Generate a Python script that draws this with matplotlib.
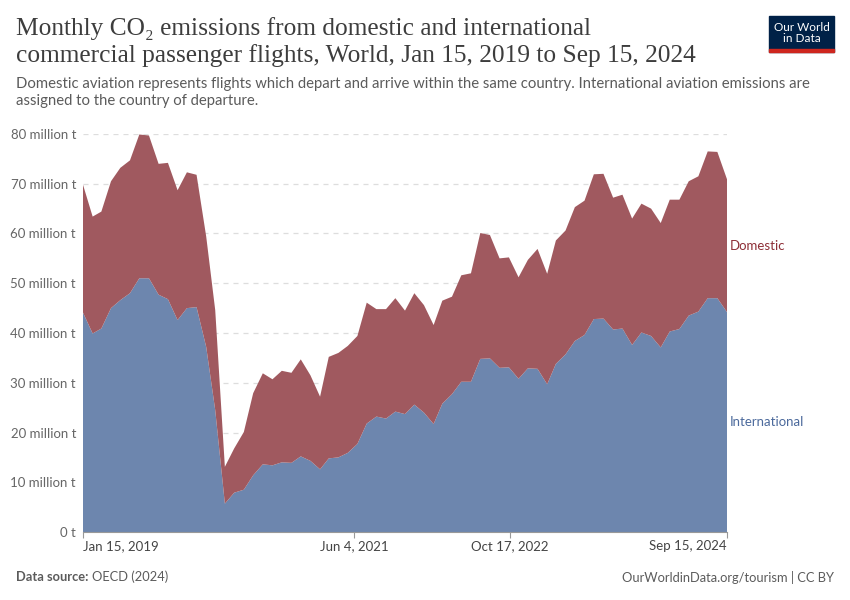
import matplotlib
matplotlib.use("Agg")
import matplotlib.pyplot as plt
import matplotlib.dates as mdates
import numpy as np
import pandas as pd
from matplotlib.patches import Rectangle

# ---- data (million tonnes CO2) ----
months = pd.date_range("2019-01-01", "2024-09-01", freq="MS") + pd.Timedelta(days=14)

international = [
    44.1, 39.9, 40.9, 45.0, 46.6, 48.0, 51.0, 51.0, 47.7, 46.8, 42.6, 45.0,
    45.2, 37.2, 24.5, 5.7, 7.9, 8.5, 11.4, 13.6, 13.4, 14.0, 13.9, 15.2,
    14.3, 12.6, 14.8, 15.0, 15.9, 17.7, 21.8, 23.2, 22.8, 24.2, 23.7, 25.6,
    24.0, 21.7, 25.8, 27.7, 30.2, 30.2, 34.8, 34.9, 33.0, 33.1, 30.8, 32.9,
    32.8, 29.7, 33.8, 35.7, 38.4, 39.6, 42.8, 42.9, 40.7, 40.9, 37.6, 40.1,
    39.4, 37.1, 40.3, 40.8, 43.5, 44.3, 47.0, 47.0, 44.2,
]
total = [
    69.8, 63.4, 64.4, 70.5, 73.2, 74.7, 79.9, 79.7, 74.0, 74.2, 68.7, 72.3,
    71.8, 59.4, 44.6, 13.1, 16.8, 20.1, 27.9, 31.9, 30.7, 32.4, 32.0, 34.7,
    31.5, 27.2, 35.2, 36.0, 37.4, 39.4, 46.1, 44.8, 44.8, 47.0, 44.5, 48.0,
    45.6, 41.6, 46.5, 47.3, 51.6, 52.0, 60.1, 59.7, 55.0, 55.2, 51.2, 54.7,
    56.9, 51.9, 58.6, 60.6, 65.3, 66.6, 71.9, 72.0, 67.2, 67.8, 63.0, 66.0,
    65.0, 62.1, 66.8, 66.8, 70.5, 71.5, 76.5, 76.4, 70.9,
]
domestic = [t - i for t, i in zip(total, international)]

yticks = [0, 10, 20, 30, 40, 50, 60, 70, 80]
ytick_labels = ["0 t"] + [f"{v} million t" for v in yticks[1:]]
xtick_dates = ["2019-01-15", "2021-06-04", "2022-10-17", "2024-09-15"]
xtick_labels = ["Jan 15, 2019", "Jun 4, 2021", "Oct 17, 2022", "Sep 15, 2024"]

# ---- style ----
plt.rcParams['font.family'] = ['Lato', 'DejaVu Sans']
BLUE = "#6D86AE"
RED = "#A0595F"
GRID = "#dddddd"
TXT = "#666666"

fig = plt.figure(figsize=(8.5, 6), dpi=100)
ax = fig.add_axes([83/850, 1-532/600, (727-83)/850, (532-134)/600])

x = mdates.date2num(months.to_pydatetime())
ax.stackplot(x, international, domestic, colors=[BLUE, RED], linewidth=0)

ax.set_xlim(x[0], x[-1])
ax.set_ylim(0, 80)

for v in yticks[1:]:
    ax.axhline(v, color=GRID, lw=0.9, ls=(0, (4, 4)), zorder=0)
ax.set_axisbelow(True)

ax.set_yticks(yticks)
ax.set_yticklabels(ytick_labels, fontsize=9.5, color=TXT)
ax.tick_params(axis='y', length=0, pad=5)

xt = mdates.date2num(pd.to_datetime(xtick_dates).to_pydatetime())
ax.set_xticks(xt)
ax.set_xticklabels(xtick_labels, fontsize=9.5, color="#444444")
ax.tick_params(axis='x', length=4, color="#999999", pad=2)
labels = ax.get_xticklabels()
labels[0].set_ha("left")
labels[-1].set_ha("right")

for s in ["top", "right", "left"]:
    ax.spines[s].set_visible(False)
ax.spines["bottom"].set_color("#999999")
ax.spines["bottom"].set_linewidth(0.8)

# series labels at right end
ax.text(x[-1] + 10, international[-1] / 2, "International", color="#4C6A9C",
        fontsize=9.5, va="center", ha="left", clip_on=False)
ax.text(x[-1] + 10, international[-1] + domestic[-1] / 2, "Domestic", color="#8E2F37",
        fontsize=9.5, va="center", ha="left", clip_on=False)

# titles
fig.text(16/850, 1-17/600, "Monthly CO₂ emissions from domestic and international\ncommercial passenger flights, World, Jan 15, 2019 to Sep 15, 2024",
         fontsize=18.3, family=['Liberation Serif', 'DejaVu Serif'], color="#3d3d3d",
         va="top", ha="left", linespacing=1.2)
fig.text(16/850, 1-77/600, "Domestic aviation represents flights which depart and arrive within the same country. International aviation emissions are\nassigned to the country of departure.",
         fontsize=10.7, color="#5b5b5b", va="top", ha="left", linespacing=1.3)

# footer
t1 = fig.text(16/850, 1-577/600, "Data source:", fontsize=9.3, color="#5b5b5b",
              fontweight="bold", va="center", ha="left")
fig.canvas.draw()
bb = t1.get_window_extent()
fig.text((bb.x1 + 4) / 850, 1-577/600, "OECD (2024)", fontsize=9.3, color="#5b5b5b",
         va="center", ha="left")
fig.text(834/850, 1-577/600, "OurWorldinData.org/tourism | CC BY", fontsize=9.3,
         color="#5b5b5b", va="center", ha="right")

# logo
fig.patches.append(Rectangle((769/850, 1-52/600), 65/850, 36/600,
                             transform=fig.transFigure, color="#002147"))
fig.patches.append(Rectangle((769/850, 1-52/600), 65/850, 3/600,
                             transform=fig.transFigure, color="#CE261E"))
fig.text(801.5/850, 1-33/600, "Our World\nin Data", fontsize=8.5, color="white",
         va="center", ha="center", linespacing=1.0)

fig.savefig("out.png", dpi=100, facecolor="white")
